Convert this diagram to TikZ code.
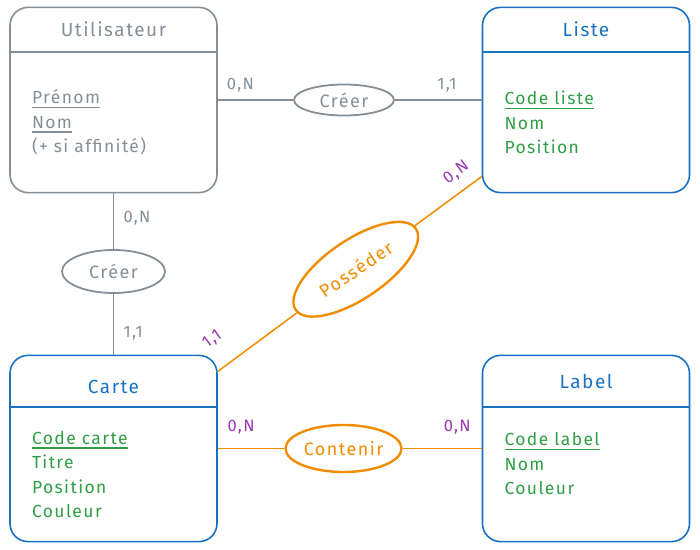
\documentclass[tikz,border=0pt]{standalone}
\usepackage{fontspec}
\setmainfont{Fira Sans}[LetterSpace=8]
\usepackage{tikz}
\usetikzlibrary{shapes.multipart,shapes.geometric,calc}

\definecolor{gris}{HTML}{868E96}
\definecolor{bleu}{HTML}{1971C2}
\definecolor{vert}{HTML}{2F9E44}
\definecolor{orangeasso}{HTML}{F08C00}
\definecolor{violetcard}{HTML}{9C36B5}

\newcommand{\titre}[2]{\parbox[c][#1][c]{207pt}{\centering #2}}
\newcommand{\attributs}[2]{\parbox[c][#1][c]{207pt}{\fontsize{17.5pt}{24.5pt}\selectfont\raggedright\leftskip=22pt #2}}
\newcommand{\souligne}[1]{\leavevmode\setbox0\hbox{#1}\rlap{\rule[-4.5pt]{\wd0}{1.2pt}}\box0}

\begin{document}
\begin{tikzpicture}[x=1pt, y=1pt, node distance=472.5pt,
  entite/.style={rectangle split, rectangle split parts=2, draw, rounded corners=18pt,
    line width=1.6pt, inner sep=0pt, font=\fontsize{19pt}{22pt}\selectfont},
  asso/.style={ellipse, draw, line width=1.8pt, inner sep=0pt, font=\fontsize{18pt}{20pt}\selectfont},
  card/.style={font=\fontsize{16.5pt}{18pt}\selectfont},
  lien/.style={line width=1.5pt}]

\useasboundingbox (0,0) rectangle (700,549);

% entites
\node[entite, gris] (U) at (113.5,449) {\titre{43pt}{Utilisateur}\nodepart{two}\attributs{139pt}{\souligne{Prénom}\\ \souligne{Nom}\\ (+ si affinité)}};
\node[entite, bleu] (L) [right of=U] {\titre{43pt}{Liste}\nodepart{two}\attributs{139pt}{\color{vert}\souligne{Code liste}\\ Nom\\ Position}};
\node[entite, bleu] (C) [below of=U, node distance=348.5pt] {\titre{50pt}{\vspace*{12pt}Carte}\nodepart{two}\attributs{133pt}{\color{vert}\souligne{Code carte}\\ Titre\\ Position\\ Couleur}};
\node[entite, bleu] (Lb) [right of=C] {\titre{50pt}{Label}\nodepart{two}\attributs{133pt}{\color{vert}\souligne{Code label}\\ Nom\\ Couleur\\[21pt]}};

% associations
\node[asso, gris, minimum width=100pt, minimum height=31pt] (CrA) [right of=U, node distance=230.5pt] {Créer};
\node[asso, gris, minimum width=103pt, minimum height=43pt] (CrB) [below of=U, node distance=171.5pt] {Créer};
\node[asso, orangeasso, line width=2.4pt, minimum width=116pt, minimum height=47pt] (Co) [right of=C, node distance=230pt] {Contenir};
\node[asso, orangeasso, line width=2.4pt, minimum width=145pt, minimum height=59pt, rotate=34] (Po) at ($(C)!0.5!(L)+(6,5)$) {Posséder};

\path[lien, gris]
      (U) edge node[card, above=4pt, pos=0.3] {0,N} (CrA)
      (CrA) edge node[card, above=4pt, pos=0.6] {1,1} (L)
      (U) edge node[card, right=6pt, pos=0.45] {0,N} (CrB)
      (CrB) edge node[card, right=6pt, pos=0.65] {1,1} (C);

\path[lien, orangeasso]
      (C) edge node[card, violetcard, sloped, above=18pt, pos=0.15] {1,1} (Po)
      (Po) edge node[card, violetcard, sloped, above=7pt, pos=0.78] {0,N} (L)
      (C) edge node[card, violetcard, above=10pt, pos=0.35] {0,N} (Co)
      (Co) edge node[card, violetcard, above=10pt, pos=0.69] {0,N} (Lb);
\end{tikzpicture}
\end{document}
